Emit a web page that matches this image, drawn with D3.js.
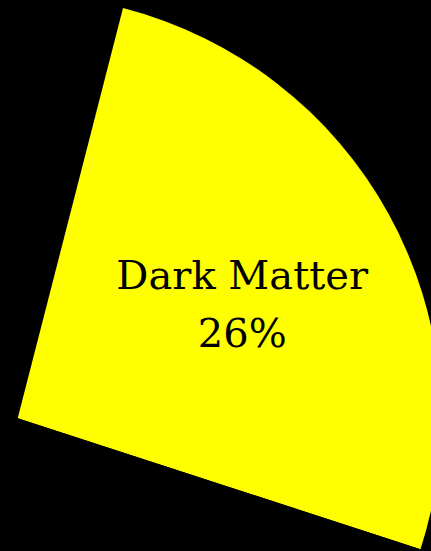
<!DOCTYPE html>
<html>
<head>
<meta charset="utf-8">
<script src="https://cdn.jsdelivr.net/npm/d3@7"></script>
<style>
  html, body { margin: 0; padding: 0; background: #000; overflow: hidden; }
  svg { display: block; }
</style>
</head>
<body>
<svg id="chart" width="431" height="551"></svg>
<script>
// universe composition
const categories = ["Ordinary Matter", "Dark Matter", "Dark Energy"];
const values = [4, 26, 70];
const highlighted = "Dark Matter";

const width = 431, height = 551;
const cx = 17.7, cy = 418.3;
const radius = 423.5;

const svg = d3.select("#chart");

svg.append("rect")
    .attr("width", width)
    .attr("height", height)
    .attr("fill", "#000");

const pie = d3.pie().sort(null);
const arcs = pie(values);

const arc = d3.arc().innerRadius(0).outerRadius(radius);
const labelArc = d3.arc().innerRadius(radius * 0.605).outerRadius(radius * 0.605);

const g = svg.append("g")
    .attr("transform", `translate(${cx},${cy})`);

g.selectAll("path")
    .data(arcs)
    .enter()
    .append("path")
    .attr("d", arc)
    .attr("fill", (d, i) => categories[i] === highlighted ? "#ffff00" : "#000");

// label only on the highlighted slice
const label = g.selectAll("text")
    .data(arcs.filter((d, i) => categories[i] === highlighted))
    .enter()
    .append("text")
    .attr("transform", d => `translate(${labelArc.centroid(d)})`)
    .attr("text-anchor", "middle")
    .attr("fill", "#000")
    .style("font-family", "'DejaVu Serif', serif")
    .style("font-size", "40px");

label.append("tspan")
    .attr("x", 0)
    .attr("dy", "-0.15em")
    .text(highlighted);

label.append("tspan")
    .attr("x", 0)
    .attr("dy", "1.45em")
    .text(d => Math.round(d.data) + "%");
</script>
</body>
</html>
